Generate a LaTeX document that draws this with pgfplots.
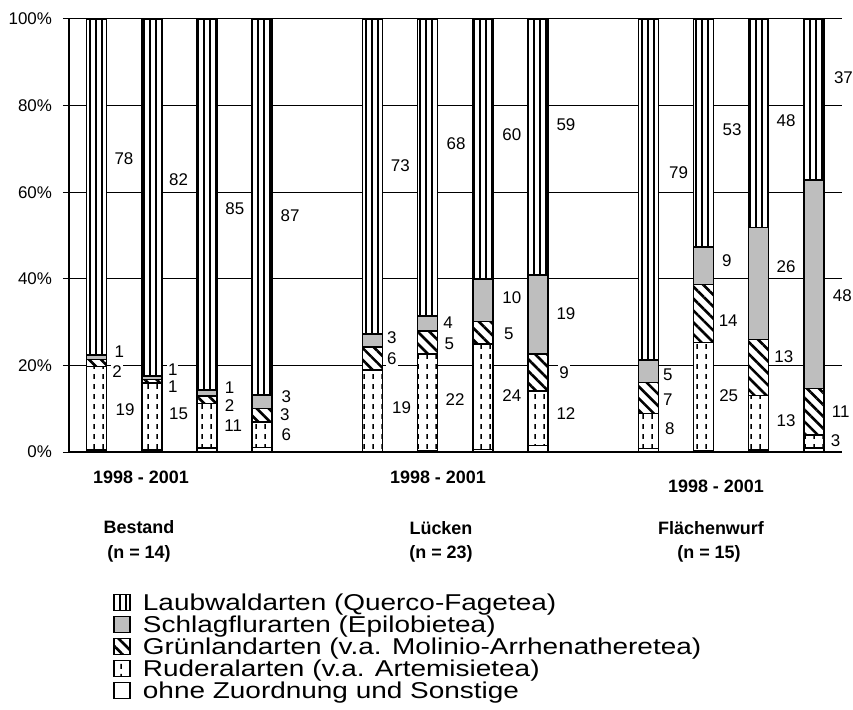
\documentclass[border=0pt]{standalone}
\usepackage{fontspec}
\setmainfont{Liberation Sans}
\newfontfamily\legfont{Liberation Sans}[FakeStretch=1.22]
\usepackage{pgfplots}
\pgfplotsset{compat=1.18}
\usepackage{pgfplotstable}
\usetikzlibrary{patterns,patterns.meta}

\definecolor{schlag}{RGB}{190,190,190}

% dashed vertical strokes for the Ruderalarten
\pgfdeclarepatternformonly{ruderal}{\pgfpointorigin}{\pgfpoint{4.5bp}{5bp}}{\pgfpoint{4.5bp}{5bp}}{%
  \pgfsetlinewidth{0.8bp}%
  \pgfpathmoveto{\pgfpoint{2.25bp}{0.6bp}}%
  \pgfpathlineto{\pgfpoint{2.25bp}{3.2bp}}%
  \pgfusepath{stroke}}

\tikzset{lbl/.style={anchor=west, fill=white, inner xsep=0.5bp, inner ysep=0.5bp,
    font=\fontsize{8.5}{8.5}\selectfont}}

% x: position of the bar, then shares in % (bottom to top)
\pgfplotstableread{
x  ohne rud  gruen schlag laub
0  0.5  19.2 1.7   1.0    77.6
1  0.5  15.4 0.9   0.8    82.4
2  0.9  10.3 1.7   1.4    85.7
3  1.0  5.9  3.1   3.2    86.8
5  0.0  18.9 5.4   2.9    72.8
6  0.3  22.3 5.3   3.5    68.6
7  0.6  24.3 5.2   9.8    60.1
8  1.5  12.6 8.5   18.3   59.1
10 0.8  8.1  7.2   5.1    78.8
11 0.3  25.0 13.4  8.6    52.7
12 0.5  12.6 12.9  25.9   48.1
13 0.9  3.0  10.8  48.1   37.2
}\data

\newcommand\lab[3]{\node[lbl] at (axis cs:#1,#2) {#3};}

\begin{document}
\begin{tikzpicture}
\useasboundingbox (0,0) rectangle (426.5bp,355bp);
\begin{axis}[
  at={(34.5bp,129bp)}, anchor=south west,
  width=386.25bp, height=216.5bp, scale only axis,
  ybar stacked, bar width=10bp,
  xmin=-0.5, xmax=13.5, ymin=0, ymax=100,
  axis lines*=left,
  axis line style={black, line width=0.6bp},
  xtick=\empty,
  ytick={0,20,...,100},
  yticklabel={\pgfmathprintnumber{\tick}\%},
  ymajorgrids, grid style={black, line width=0.5bp},
  ytick align=outside, major tick length=3bp,
  y tick style={black, line width=0.5bp},
  tick label style={font=\fontsize{8.5}{8.5}\selectfont, /pgf/number format/assume math mode=true},
  yticklabel style={xshift=-2bp},
  clip=false,
  legend image code/.code={\draw[#1] (0bp,-3.3bp) rectangle (7.8bp,4.9bp); \path (14bp,0bp);},
  reverse legend,
  legend cell align=left,
  legend style={at={(0.057,-0.325)}, anchor=north west, draw=none, fill=none,
    inner sep=0pt, row sep=0pt, column sep=0pt,
    font=\legfont\fontsize{11.5}{11.5}\selectfont,
    nodes={inner xsep=0pt, inner ysep=0pt, text height=8.8bp, text depth=2.2bp}},
]
\addplot[draw=black, line width=0.75bp, fill=white] table[x=x, y=ohne] {\data};
\addlegendentry{ohne Zuordnung und Sonstige}
\addplot[draw=black, line width=0.75bp, fill=white, postaction={pattern=ruderal}] table[x=x, y=rud] {\data};
\addlegendentry{Ruderalarten (v.a. Artemisietea)}
\addplot[draw=black, line width=0.75bp, fill=white,
  postaction={pattern={Lines[angle=-45, distance=4.2bp, line width=1.3bp]}}] table[x=x, y=gruen] {\data};
\addlegendentry{Grünlandarten (v.a. Molinio-Arrhenatheretea)}
\addplot[draw=black, line width=0.75bp, fill=schlag] table[x=x, y=schlag] {\data};
\addlegendentry{Schlagflurarten (Epilobietea)}
\addplot[draw=black, line width=0.75bp, fill=white,
  postaction={pattern={Lines[angle=90, distance=3bp, line width=1.1bp]}}] table[x=x, y=laub] {\data};
\addlegendentry{Laubwaldarten (Querco-Fagetea)}

% value labels
\lab{0.3}{67.8}{78} \lab{0.3}{23.1}{1} \lab{0.26}{18.5}{2} \lab{0.32}{9.7}{19}
\lab{1.29}{62.8}{82} \lab{1.27}{19.1}{1} \lab{1.27}{15.2}{1} \lab{1.29}{8.8}{15}
\lab{2.31}{56.1}{85} \lab{2.3}{14.9}{1} \lab{2.3}{10.7}{2} \lab{2.29}{6.1}{11}
\lab{3.31}{54.6}{87} \lab{3.33}{12.8}{3} \lab{3.3}{8.7}{3} \lab{3.33}{4.1}{6}
\lab{5.31}{66.1}{73} \lab{5.24}{26.4}{3} \lab{5.24}{21.5}{6} \lab{5.33}{10.3}{19}
\lab{6.32}{71.1}{68} \lab{6.26}{29.9}{4} \lab{6.28}{25.1}{5} \lab{6.3}{12}{22}
\lab{7.33}{73.4}{60} \lab{7.33}{35.6}{10} \lab{7.36}{27.3}{5} \lab{7.33}{13}{24}
\lab{8.31}{75.5}{59} \lab{8.31}{31.9}{19} \lab{8.36}{18.4}{9} \lab{8.31}{8.9}{12}
\lab{10.35}{64.6}{79} \lab{10.24}{17.8}{5} \lab{10.24}{12.2}{7} \lab{10.28}{5.5}{8}
\lab{11.32}{74.4}{53} \lab{11.31}{44.3}{9} \lab{11.25}{30.3}{14} \lab{11.26}{13}{25}
\lab{12.3}{76.5}{48} \lab{12.3}{42.8}{26} \lab{12.26}{22}{13} \lab{12.3}{7.2}{13}
\lab{13.34}{86.5}{37} \lab{13.32}{36.1}{48} \lab{13.3}{9.2}{11} \lab{13.28}{2.6}{3}
\end{axis}

\begin{scope}[every node/.style={anchor=base, font=\bfseries\fontsize{9}{9}\selectfont}]
\node at (70.5bp,113bp) {1998 - 2001};
\node at (219bp,113bp) {1998 - 2001};
\node at (358bp,108.5bp) {1998 - 2001};
\node at (69.5bp,88bp) {Bestand};
\node at (69.5bp,75.5bp) {(n = 14)};
\node at (220.5bp,87.5bp) {Lücken};
\node at (220.5bp,75.5bp) {(n = 23)};
\node at (355.5bp,87.5bp) {Flächenwurf};
\node at (354.5bp,75.5bp) {(n = 15)};
\end{scope}
\end{tikzpicture}
\end{document}
